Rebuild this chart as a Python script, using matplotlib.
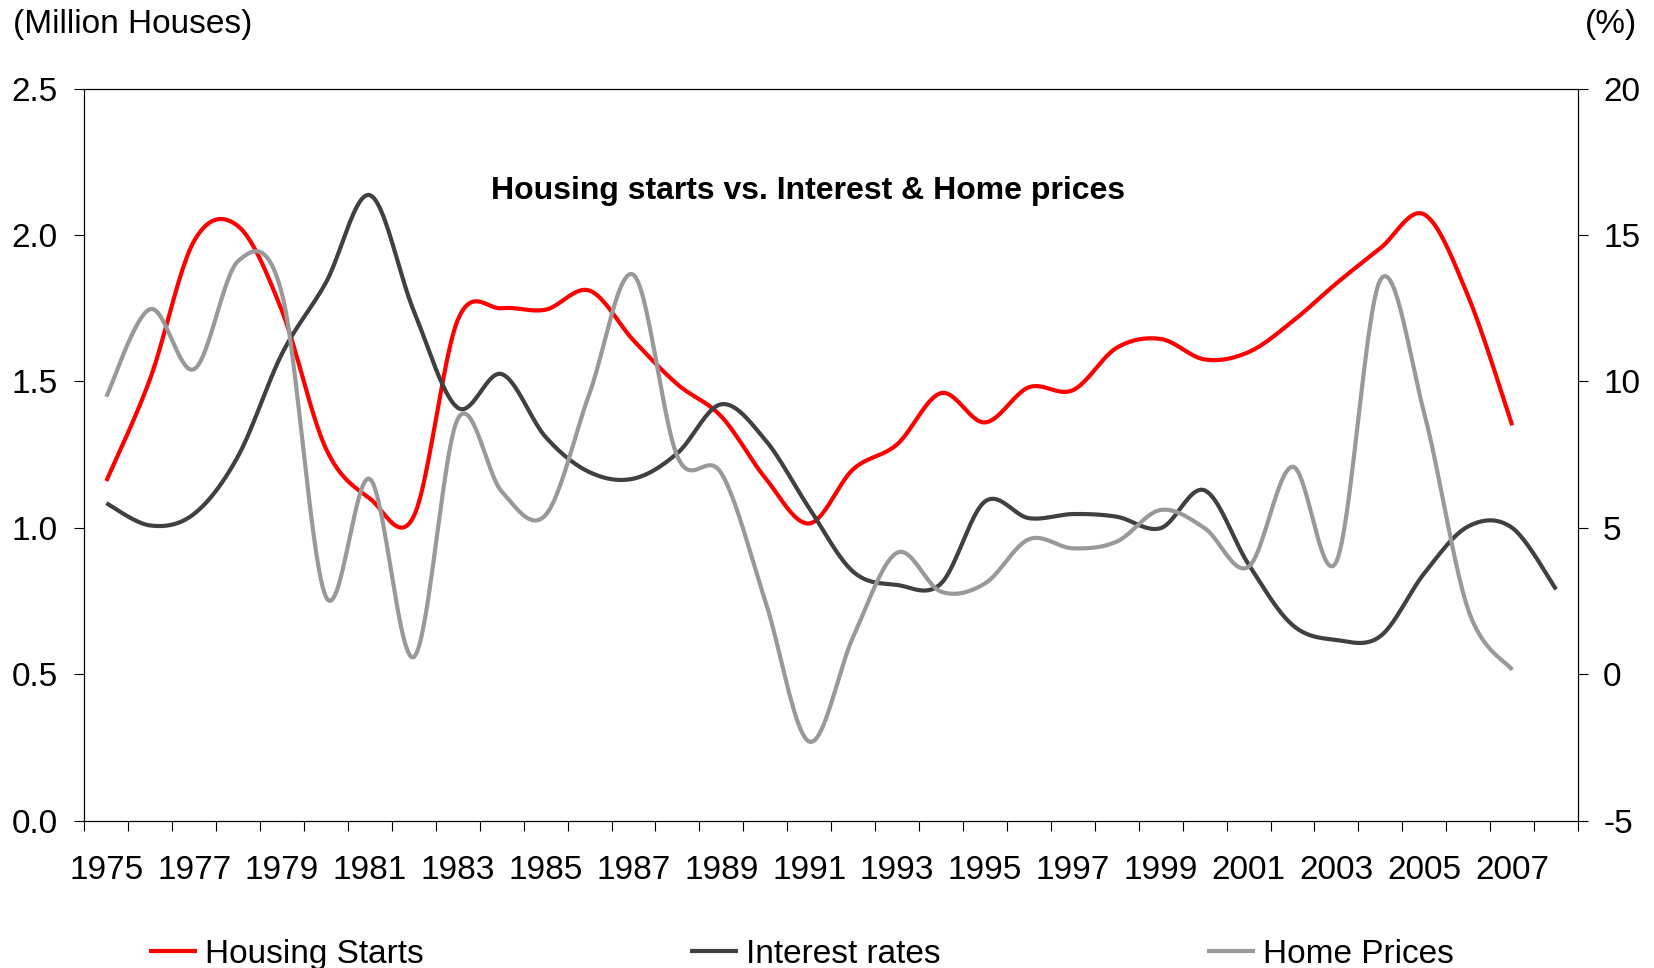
"""Housing starts vs. Fed funds rate & home price growth, 1975-2008 (Excel-style smoothed lines)."""

import numpy as np
import matplotlib
matplotlib.use("Agg")
import matplotlib.pyplot as plt
from matplotlib.ticker import FixedLocator, NullFormatter

years = list(range(1975, 2009))

# million houses, 1975-2007
housing_starts = [1.16, 1.51, 1.98, 2.03, 1.74, 1.27, 1.10, 1.04, 1.71, 1.75,
                  1.745, 1.81, 1.64, 1.49, 1.38, 1.17, 1.015, 1.20, 1.285, 1.46,
                  1.36, 1.48, 1.47, 1.615, 1.645, 1.575, 1.60, 1.705, 1.835, 1.955,
                  2.07, 1.79, 1.35]

# %, 1975-2008
interest_rates = [5.84, 5.08, 5.48, 7.45, 10.95, 13.38, 16.36, 12.4, 9.1, 10.25,
                  8.1, 6.9, 6.68, 7.55, 9.22, 8.0, 5.67, 3.5, 3.05, 3.1,
                  5.9, 5.33, 5.47, 5.38, 4.99, 6.28, 3.75, 1.68, 1.17, 1.3,
                  3.45, 5.05, 5.0, 2.9]

# %, 1975-2007
home_prices = [9.48, 12.47, 10.42, 14.11, 12.98, 2.64, 6.67, 0.59, 8.72, 6.24,
               5.44, 9.6, 13.64, 7.43, 6.86, 2.5, -2.3, 1.28, 4.15, 2.82,
               3.1, 4.61, 4.3, 4.53, 5.61, 4.99, 3.67, 7.09, 3.85, 13.47,
               8.9, 2.2, 0.15]

year_labels = [str(y) for y in years[::2] if y <= 2007]
left_ticks = [0.0, 0.5, 1.0, 1.5, 2.0, 2.5]
right_ticks = [-5, 0, 5, 10, 15, 20]

plt.rcParams["font.family"] = ["Liberation Sans", "DejaVu Sans"]


def smooth(x, y, n=24):
    """Uniform Catmull-Rom through the points, like Excel's smoothed line."""
    pts = np.column_stack([x, y]).astype(float)
    p = np.vstack([pts[0], pts, pts[-1]])
    t = np.linspace(0, 1, n, endpoint=False)[:, None]
    out = []
    for i in range(1, len(p) - 2):
        p0, p1, p2, p3 = p[i - 1], p[i], p[i + 1], p[i + 2]
        c1 = p1 + (p2 - p0) / 6
        c2 = p2 - (p3 - p1) / 6
        seg = ((1 - t) ** 3) * p1 + 3 * ((1 - t) ** 2) * t * c1 + 3 * (1 - t) * t ** 2 * c2 + t ** 3 * p2
        out.append(seg)
    out.append(pts[-1:])
    s = np.vstack(out)
    return s[:, 0], s[:, 1]


RED = "#FF0000"
DARK = "#404040"
GREY = "#999999"
FS = 24

fig = plt.figure(figsize=(16.54, 9.68), dpi=100)
ax = fig.add_axes([0.0510, 0.1522, 0.9031, 0.7563])
ax2 = ax.twinx()

idx = np.arange(len(years))
hx, hy = smooth(idx[:len(housing_starts)], housing_starts)
ix, iy = smooth(idx[:len(interest_rates)], interest_rates)
px, py = smooth(idx[:len(home_prices)], home_prices)

l1, = ax.plot(hx, hy, color=RED, lw=3, solid_capstyle="butt", label="Housing Starts")
l2, = ax2.plot(ix, iy, color=DARK, lw=3, solid_capstyle="butt", label="Interest rates")
l3, = ax2.plot(px, py, color=GREY, lw=3, solid_capstyle="butt", label="Home Prices")

ax.set_xlim(-0.5, len(years) - 0.5)
ax.set_ylim(0, 2.5)
ax2.set_ylim(-5, 20)

ax.set_yticks(left_ticks, labels=[f"{v:.1f}" for v in left_ticks])
ax2.set_yticks(right_ticks, labels=[str(v) for v in right_ticks])

# labels every other year at category centres, tick marks at category boundaries
ax.xaxis.set_major_locator(FixedLocator([y - 1975 for y in years[::2] if y <= 2007]))
ax.set_xticklabels(year_labels)
ax.xaxis.set_minor_locator(FixedLocator(np.arange(-0.5, len(years), 1.0)))
ax.xaxis.set_minor_formatter(NullFormatter())
ax.tick_params(axis="x", which="major", length=0, pad=25, labelsize=FS)
ax.tick_params(axis="x", which="minor", length=7, width=0.8, direction="out")
ax.tick_params(axis="y", length=7, width=0.8, pad=12, labelsize=FS)
ax2.tick_params(axis="y", length=7, width=0.8, pad=11, labelsize=FS)

for a in (ax, ax2):
    for sp in a.spines.values():
        sp.set_linewidth(0.8)
        sp.set_color("black")

ax.text(0.4845, 0.86, "Housing starts vs. Interest & Home prices", transform=ax.transAxes,
        ha="center", va="center", fontsize=23, fontweight="bold")

fig.text(0.0077, 0.975, "(Million Houses)", ha="left", va="center", fontsize=FS)
fig.text(0.990, 0.975, "(%)", ha="right", va="center", fontsize=FS)

fig.legend(handles=[l1, l2, l3], loc="center", bbox_to_anchor=(0.4846, 0.014),
           ncol=3, frameon=False, fontsize=FS, handlelength=1.43, handletextpad=0.24,
           columnspacing=8.0, borderpad=0)

fig.savefig("out.png", dpi=100)
